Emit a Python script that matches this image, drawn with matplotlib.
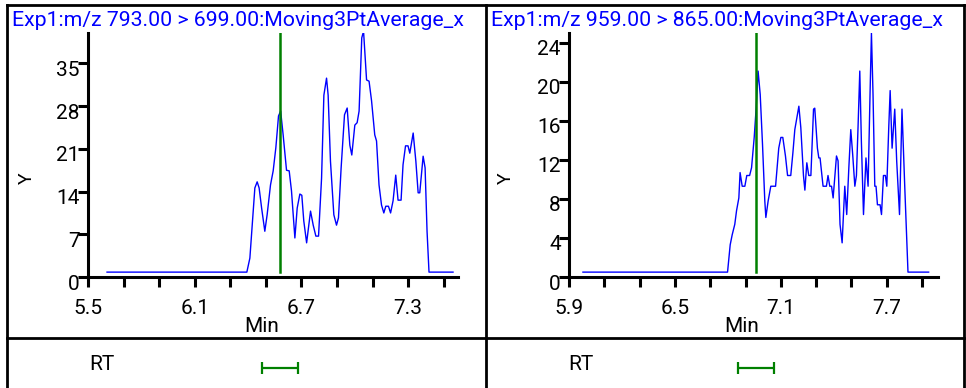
import matplotlib
matplotlib.use("Agg")
import matplotlib.pyplot as plt
import matplotlib.transforms as mtransforms
import numpy as np

plt.rcParams["font.family"] = ["Roboto", "DejaVu Sans"]

# left trace: m/z 793.00 > 699.00
left_time = [5.607, 6.393, 6.410, 6.438, 6.451, 6.462, 6.476, 6.494, 6.507, 6.526, 6.541, 6.556,
             6.571, 6.583, 6.597, 6.616, 6.631, 6.644, 6.663, 6.676, 6.691, 6.702, 6.713, 6.729,
             6.751, 6.766, 6.781, 6.796, 6.813, 6.826, 6.841, 6.850, 6.863, 6.882, 6.897, 6.908,
             6.923, 6.942, 6.957, 6.972, 6.983, 7.000, 7.013, 7.024, 7.039, 7.049, 7.066, 7.080,
             7.094, 7.112, 7.122, 7.136, 7.150, 7.163, 7.174, 7.189, 7.201, 7.215, 7.230, 7.243,
             7.260, 7.271, 7.285, 7.299, 7.309, 7.328, 7.343, 7.356, 7.365, 7.384, 7.395, 7.406,
             7.417, 7.552]
left_int = [0.8, 0.8, 3.1, 14.6, 15.6, 14.6, 11.3, 7.5, 10.2, 15.1, 17.4, 21.2,
            26.4, 27.2, 23.3, 17.5, 17.4, 14.1, 6.4, 11.3, 13.6, 13.4, 9.2, 5.6,
            10.8, 8.5, 6.7, 6.7, 16.2, 29.8, 32.6, 29.8, 19.0, 10.2, 8.5, 9.7,
            17.9, 26.6, 27.7, 21.6, 20.0, 24.9, 25.3, 27.2, 39.2, 40.3, 32.3, 32.1,
            28.9, 23.3, 22.3, 15.1, 11.8, 10.5, 11.6, 11.6, 10.5, 12.5, 16.7, 12.6,
            12.6, 18.4, 21.5, 21.5, 20.3, 23.6, 19.0, 13.8, 13.8, 19.8, 17.9, 7.5,
            0.8, 0.8]

# right trace: m/z 959.00 > 865.00
right_time = [5.979, 6.798, 6.813, 6.824, 6.839, 6.849, 6.862, 6.869, 6.881, 6.896, 6.907, 6.923,
              6.934, 6.949, 6.960, 6.971, 6.983, 6.996, 7.009, 7.015, 7.028, 7.043, 7.070, 7.088,
              7.100, 7.111, 7.126, 7.138, 7.156, 7.168, 7.179, 7.202, 7.213, 7.228, 7.236, 7.247,
              7.258, 7.270, 7.285, 7.292, 7.307, 7.315, 7.322, 7.339, 7.358, 7.367, 7.377, 7.387,
              7.396, 7.415, 7.424, 7.435, 7.447, 7.462, 7.473, 7.485, 7.496, 7.507, 7.519, 7.528,
              7.537, 7.547, 7.556, 7.568, 7.582, 7.594, 7.605, 7.613, 7.622, 7.632, 7.639, 7.647,
              7.662, 7.670, 7.681, 7.692, 7.700, 7.711, 7.719, 7.730, 7.745, 7.756, 7.772, 7.786,
              7.802, 7.820, 7.937]
right_int = [0.5, 0.5, 3.3, 4.3, 5.4, 6.8, 8.1, 10.7, 9.3, 9.3, 10.4, 10.4,
             11.2, 14.3, 17.3, 21.1, 18.7, 13.6, 7.8, 6.1, 7.8, 9.3, 9.3, 13.2,
             14.3, 14.3, 12.4, 10.4, 10.4, 12.7, 15.1, 17.5, 15.3, 10.4, 8.9, 11.7,
             10.4, 10.4, 17.2, 17.3, 13.2, 12.2, 12.2, 9.3, 9.3, 10.4, 9.3, 9.3,
             8.1, 12.4, 11.9, 5.4, 3.5, 9.3, 6.4, 11.2, 15.1, 12.5, 9.3, 10.4,
             15.3, 21.1, 13.9, 6.4, 12.2, 9.3, 18.7, 25.0, 18.7, 9.3, 9.3, 7.4,
             7.4, 6.4, 10.4, 10.4, 9.3, 15.3, 19.1, 13.2, 17.2, 11.9, 6.4, 17.2,
             9.1, 0.5, 0.5]

titles = ["Exp1:m/z 793.00 > 699.00:Moving3PtAverage_x", "Exp1:m/z 959.00 > 865.00:Moving3PtAverage_x"]
rt_marks = [6.58, 6.96]
rt_window = 0.1
x_ranges = [(5.5, 7.58), (5.9, 7.99)]
y_ranges = [(0, 40), (0, 25)]
x_majors = [[5.5, 6.1, 6.7, 7.3], [5.9, 6.5, 7.1, 7.7]]
y_ticks = [[0, 7, 14, 21, 28, 35], [0, 4, 8, 12, 16, 20, 24]]

W, H = 966, 388
fig = plt.figure(figsize=(W / 100, H / 100), dpi=100)

def box(x0, y0, x1, y1):
    # pixel box (from top left) -> figure fraction rect
    return [x0 / W, 1 - y1 / H, (x1 - x0) / W, (y1 - y0) / H]

panels = [(7, 88, 458), (486, 569, 938)]
traces = [(left_time, left_int), (right_time, right_int)]

for i, (px0, ax0, ax1) in enumerate(panels):
    ax = fig.add_axes(box(ax0, 33, ax1, 277))
    t, y = traces[i]
    ax.plot(t, y, color="#0000ff", lw=1.0)
    ax.plot([rt_marks[i], rt_marks[i]], [y_ranges[i][0] + 0.02 * y_ranges[i][1], y_ranges[i][1]],
            color="#008000", lw=1.8)
    ax.set_xlim(*x_ranges[i])
    ax.set_ylim(*y_ranges[i])
    for s in ["top", "right"]:
        ax.spines[s].set_visible(False)
    for s in ["left", "bottom"]:
        ax.spines[s].set_linewidth(2.2)
    xt = np.round(np.arange(x_majors[i][0], x_ranges[i][1], 0.2), 2)
    ax.set_xticks(xt)
    ax.set_xticklabels([("%.1f" % v) if np.any(np.isclose(v, x_majors[i])) else "" for v in xt])
    ax.set_yticks(y_ticks[i])
    ax.tick_params(axis="x", length=7, width=2.2, labelsize=15, pad=9)
    ax.tick_params(axis="y", length=7, width=2.2, labelsize=15, pad=-1)
    off = mtransforms.ScaledTranslation(0, -5 / 100, fig.dpi_scale_trans)
    for lab in ax.get_yticklabels():
        lab.set_transform(lab.get_transform() + off)
    fig.text((px0 + 20) / W, 1 - 178 / H, "Y", fontsize=14, rotation=90, ha="center", va="center")
    fig.text((ax0 + ax1) / 2 / W - 0.012, 1 - 327 / H, "Min", fontsize=15, ha="center", va="center")

    fig.text((px0 + 5) / W, 1 - 20 / H, titles[i], color="#0000ff", fontsize=15.3, ha="left", va="center")

    # RT window row
    low = fig.add_axes(box(ax0, 338, ax1, 388))
    low.set_xlim(*x_ranges[i])
    low.set_ylim(0, 1)
    low.axis("off")
    low.errorbar([rt_marks[i]], [0.4], xerr=rt_window, color="#008000", lw=1.6, capsize=4.5, capthick=1.6)
    fig.text((px0 + 95) / W, 1 - 365 / H, "RT", fontsize=15, ha="center", va="center")

# frame lines
frame = fig.add_axes([0, 0, 1, 1])
frame.set_xlim(0, W)
frame.set_ylim(H, 0)
frame.axis("off")
frame.plot([7, 964], [5, 5], color="black", lw=2)
frame.plot([7, 7], [5, H], color="black", lw=2)
frame.plot([964, 964], [5, H], color="black", lw=2)
frame.plot([486, 486], [5, H], color="black", lw=2)
frame.plot([7, 964], [338, 338], color="black", lw=2)

plt.savefig("out.png", dpi=100)
plt.close()
